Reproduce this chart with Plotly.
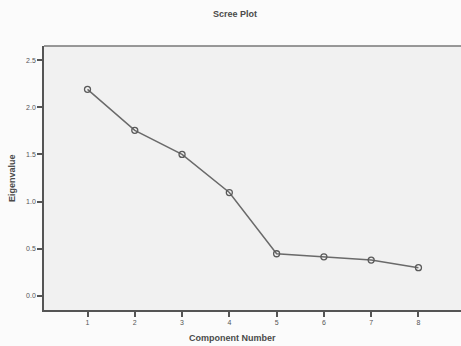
import plotly.graph_objects as go

components = [1, 2, 3, 4, 5, 6, 7, 8]
eigenvalues = [2.19, 1.755, 1.50, 1.096, 0.447, 0.415, 0.38, 0.30]
y_ticks = [0.0, 0.5, 1.0, 1.5, 2.0, 2.5]
y_tick_labels = ["0.0", "0.5", "1.0", "1.5", "2.0", "2.5"]

fig = go.Figure()
fig.add_trace(go.Scatter(
    x=components, y=eigenvalues, mode="lines+markers",
    line=dict(color="#6a6a6a", width=1.5),
    marker=dict(symbol="circle-open", size=6, color="#5a5a5a", line=dict(width=1.3)),
    showlegend=False,
))

title_font = dict(family="Liberation Sans, Arial, sans-serif", size=9, color="#4a4a4a")

fig.update_layout(
    width=461, height=346,
    margin=dict(l=44, r=0, t=46, b=36, autoexpand=False),
    paper_bgcolor="#fbfbfb",
    plot_bgcolor="#f1f1f1",
    font=dict(family="Liberation Sans, Arial, sans-serif", color="#555555", size=7),
    xaxis=dict(
        range=[0.08, 8.9], tickvals=components, ticktext=[str(c) for c in components],
        showgrid=False, zeroline=False, showline=True, linecolor="#555555", linewidth=1.5,
        ticks="outside", ticklen=5, tickcolor="#555555", tickwidth=1.5,
        automargin=False,
    ),
    yaxis=dict(
        range=[-0.149, 2.649], tickvals=y_ticks, ticktext=y_tick_labels,
        showgrid=False, zeroline=False, showline=True, linecolor="#555555", linewidth=1.5,
        ticks="outside", ticklen=5, tickcolor="#555555", tickwidth=1.5,
        automargin=False,
    ),
    shapes=[dict(type="line", xref="paper", yref="paper", x0=0, x1=1, y0=1, y1=1,
                 line=dict(color="#777777", width=1.5))],
    annotations=[
        dict(text="<b>Scree Plot</b>", xref="paper", yref="paper", x=0.457, y=1.12,
             showarrow=False, xanchor="center", yanchor="middle", font=title_font),
        dict(text="<b>Component Number</b>", xref="paper", yref="paper", x=0.452, y=-0.105,
             showarrow=False, xanchor="center", yanchor="middle", font=title_font),
        dict(text="<b>Eigenvalue</b>", xref="paper", yref="paper", x=-0.077, y=0.5,
             showarrow=False, xanchor="center", yanchor="middle", textangle=-90, font=title_font),
    ],
)

fig.write_html("out.html", config={"displayModeBar": False},
               post_script="document.body.style.margin='0';document.body.style.overflow='hidden';")
